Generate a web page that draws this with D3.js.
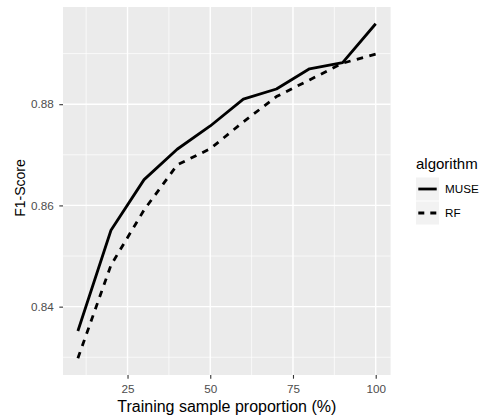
<!DOCTYPE html>
<html>
<head>
<meta charset="utf-8">
<script src="https://cdn.jsdelivr.net/npm/d3@7"></script>
<style>
  body { margin: 0; background: #fff; }
  text { font-family: "Liberation Sans", Arial, sans-serif; }
</style>
</head>
<body>
<div id="chart"></div>
<script>
// data
var proportions = [10, 20, 30, 40, 50, 60, 70, 80, 90, 100];
var museScores = [0.8352, 0.8551, 0.8651, 0.8711, 0.8757, 0.8810, 0.8830, 0.8870, 0.8882, 0.8959];
var rfScores = [0.8298, 0.8482, 0.8591, 0.8680, 0.8712, 0.8765, 0.8815, 0.8848, 0.8881, 0.8899];
var algorithms = ["MUSE", "RF"];
var xTicks = [25, 50, 75, 100];
var xMinor = [12.5, 37.5, 62.5, 87.5];
var yTicks = [0.84, 0.86, 0.88];
var yMinor = [0.83, 0.85, 0.87, 0.89];

var svgWidth = 482;
var svgHeight = 418;

var panel = { left: 63, right: 390.6, top: 7, bottom: 375 };

var svg = d3.select("#chart")
  .append("svg")
  .attr("width", svgWidth)
  .attr("height", svgHeight);

var series = [
  { name: algorithms[0], values: museScores, dash: null },
  { name: algorithms[1], values: rfScores, dash: "6.5,6.5" }
];

// ggplot style 5% expansion
function expand(ext) {
  var pad = (ext[1] - ext[0]) * 0.05;
  return [ext[0] - pad, ext[1] + pad];
}

var xScale = d3.scaleLinear()
  .domain(expand(d3.extent(proportions)))
  .range([panel.left, panel.right]);

var yScale = d3.scaleLinear()
  .domain(expand(d3.extent(museScores.concat(rfScores))))
  .range([panel.bottom, panel.top]);

// panel background
svg.append("rect")
  .attr("x", panel.left)
  .attr("y", panel.top)
  .attr("width", panel.right - panel.left)
  .attr("height", panel.bottom - panel.top)
  .attr("fill", "#EBEBEB");

// minor grid
svg.selectAll(".xminor").data(xMinor).enter().append("line")
  .attr("x1", d => xScale(d)).attr("x2", d => xScale(d))
  .attr("y1", panel.top).attr("y2", panel.bottom)
  .attr("stroke", "#fff").attr("stroke-width", 0.7);
svg.selectAll(".yminor").data(yMinor).enter().append("line")
  .attr("y1", d => yScale(d)).attr("y2", d => yScale(d))
  .attr("x1", panel.left).attr("x2", panel.right)
  .attr("stroke", "#fff").attr("stroke-width", 0.7);

// major grid
svg.selectAll(".xmajor").data(xTicks).enter().append("line")
  .attr("x1", d => xScale(d)).attr("x2", d => xScale(d))
  .attr("y1", panel.top).attr("y2", panel.bottom)
  .attr("stroke", "#fff").attr("stroke-width", 1.4);
svg.selectAll(".ymajor").data(yTicks).enter().append("line")
  .attr("y1", d => yScale(d)).attr("y2", d => yScale(d))
  .attr("x1", panel.left).attr("x2", panel.right)
  .attr("stroke", "#fff").attr("stroke-width", 1.4);

// axes
var xAxis = d3.axisBottom(xScale).tickValues(xTicks).tickSize(3.7).tickPadding(5.5).tickFormat(d3.format("d"));
var yAxis = d3.axisLeft(yScale).tickValues(yTicks).tickSize(3.7).tickPadding(5.5).tickFormat(d3.format(".2f"));

var gx = svg.append("g")
  .attr("transform", `translate(0, ${panel.bottom})`)
  .call(xAxis);
var gy = svg.append("g")
  .attr("transform", `translate(${panel.left}, 0)`)
  .call(yAxis);

[gx, gy].forEach(function(g) {
  g.select(".domain").remove();
  g.selectAll(".tick line").attr("stroke", "#333").attr("stroke-width", 1.1);
  g.selectAll(".tick text")
    .attr("fill", "#4D4D4D")
    .style("font-size", "11.7px")
    .style("font-family", "'Liberation Sans', Arial, sans-serif");
});

// lines
var line = d3.line()
  .x((d, i) => xScale(proportions[i]))
  .y(d => yScale(d));

svg.selectAll(".series").data(series).enter().append("path")
  .attr("d", d => line(d.values))
  .attr("fill", "none")
  .attr("stroke", "#000")
  .attr("stroke-width", 2.8)
  .attr("stroke-dasharray", d => d.dash)
  .attr("stroke-linejoin", "round");

// axis titles
svg.append("text")
  .attr("x", (panel.left + panel.right) / 2)
  .attr("y", 411.5)
  .attr("text-anchor", "middle")
  .style("font-size", "16px")
  .attr("fill", "#000")
  .text("Training sample proportion (%)");

svg.append("text")
  .attr("transform", `translate(25, 188) rotate(-90)`)
  .attr("text-anchor", "middle")
  .style("font-size", "14px")
  .attr("fill", "#000")
  .text("F1-Score");

// legend
var legend = svg.append("g").attr("transform", "translate(416, 0)");
legend.append("text")
  .attr("x", 0)
  .attr("y", 168.5)
  .style("font-size", "15px")
  .text("algorithm");

var keys = legend.selectAll(".key").data(series).enter().append("g")
  .attr("transform", (d, i) => `translate(0, ${177.5 + i * 24})`);
keys.append("rect")
  .attr("width", 23).attr("height", 23)
  .attr("fill", "#F2F2F2");
keys.append("line")
  .attr("x1", 2.3).attr("x2", 20.7)
  .attr("y1", 11.5).attr("y2", 11.5)
  .attr("stroke", "#000")
  .attr("stroke-width", 2.8)
  .attr("stroke-dasharray", d => d.dash ? "6,6" : null);
keys.append("text")
  .attr("x", 29)
  .attr("y", 11.5)
  .attr("dy", "0.36em")
  .style("font-size", "11.7px")
  .attr("fill", "#000")
  .text(d => d.name);
</script>
</body>
</html>
